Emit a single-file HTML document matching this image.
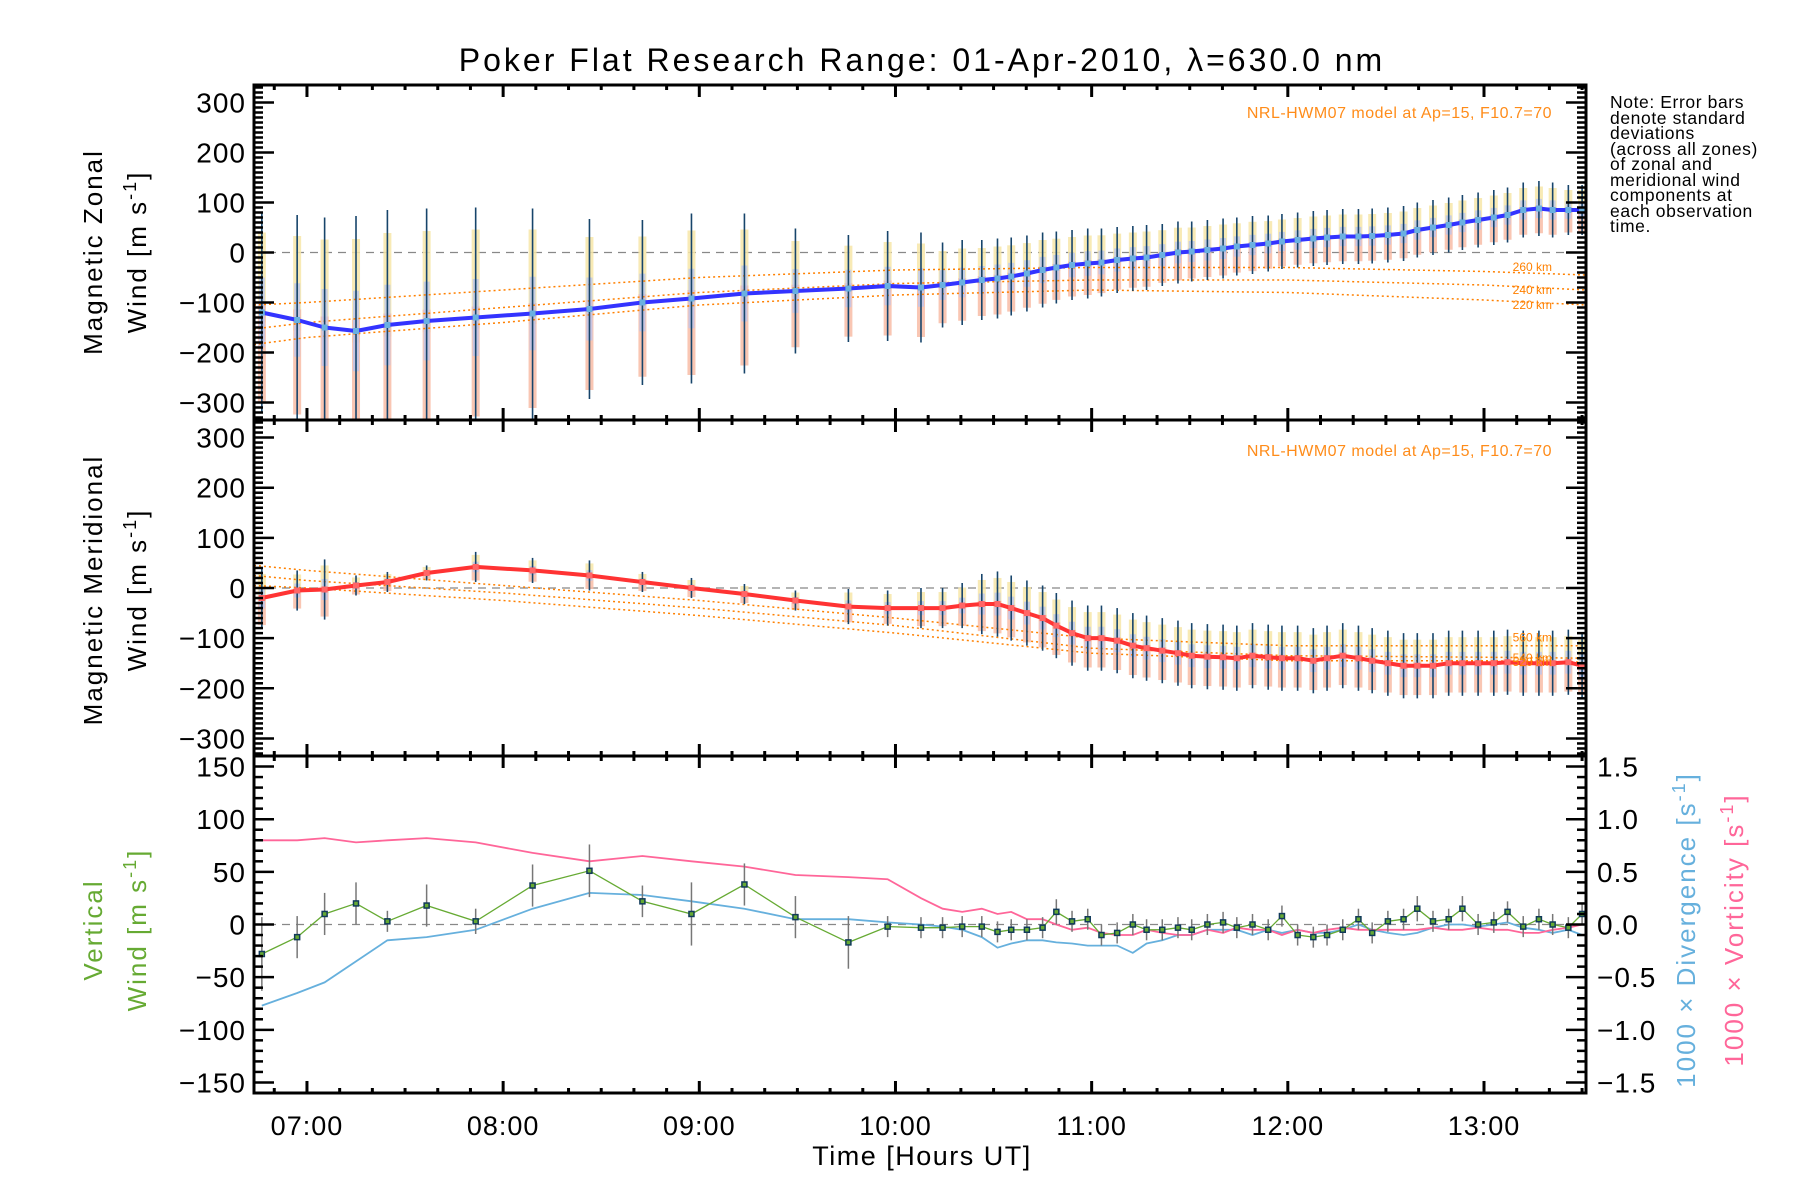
<!DOCTYPE html>
<html><head><meta charset="utf-8"><style>
html,body{margin:0;padding:0;background:#fff;}
svg{display:block;font-family:"Liberation Sans",sans-serif;}
</style></head><body>
<svg id="chart" width="1800" height="1200" viewBox="0 0 1800 1200" xmlns="http://www.w3.org/2000/svg">
<rect width="1800" height="1200" fill="#fff"/>
<text x="922" y="71" font-size="32" letter-spacing="3" text-anchor="middle">Poker Flat Research Range: 01-Apr-2010, λ=630.0 nm</text>
<g font-size="17.5" letter-spacing="0.6" fill="#000">
<text x="1610" y="108">Note: Error bars</text>
<text x="1610" y="124">denote standard</text>
<text x="1610" y="139">deviations</text>
<text x="1610" y="155">(across all zones)</text>
<text x="1610" y="170">of zonal and</text>
<text x="1610" y="186">meridional wind</text>
<text x="1610" y="201">components at</text>
<text x="1610" y="217">each observation</text>
<text x="1610" y="232">time.</text>
</g>
<g font-size="26" letter-spacing="2" text-anchor="middle">
<text transform="translate(102,252) rotate(-90)">Magnetic Zonal</text>
<text transform="translate(146,252) rotate(-90)">Wind [m s<tspan dy="-10" font-size="18">-1</tspan><tspan dy="10">]</tspan></text>
</g>
<g font-size="26" letter-spacing="2" text-anchor="middle">
<text transform="translate(102,590) rotate(-90)">Magnetic Meridional</text>
<text transform="translate(146,590) rotate(-90)">Wind [m s<tspan dy="-10" font-size="18">-1</tspan><tspan dy="10">]</tspan></text>
</g>
<g font-size="26" letter-spacing="2" text-anchor="middle" fill="#66aa33">
<text transform="translate(102,930) rotate(-90)">Vertical</text>
<text transform="translate(146,930) rotate(-90)">Wind [m s<tspan dy="-10" font-size="18">-1</tspan><tspan dy="10">]</tspan></text>
</g>
<text transform="translate(1695,930) rotate(-90)" font-size="26" letter-spacing="2" text-anchor="middle" fill="#66b0dd">1000 × Divergence [s<tspan dy="-10" font-size="18">-1</tspan><tspan dy="10">]</tspan></text>
<text transform="translate(1743,930) rotate(-90)" font-size="26" letter-spacing="2" text-anchor="middle" fill="#ff6699">1000 × Vorticity [s<tspan dy="-10" font-size="18">-1</tspan><tspan dy="10">]</tspan></text>
<text x="922" y="1165" font-size="27" letter-spacing="1.5" text-anchor="middle">Time [Hours UT]</text>
<text x="1552" y="118" font-size="16" letter-spacing="0.5" text-anchor="end" fill="#ff8c1a">NRL-HWM07 model at Ap=15, F10.7=70</text>
<text x="1552" y="456" font-size="16" letter-spacing="0.5" text-anchor="end" fill="#ff8c1a">NRL-HWM07 model at Ap=15, F10.7=70</text>
<g id="plots"></g>
</svg>
<script>
// ---- data ----
const times = [6.77,6.95,7.09,7.25,7.41,7.61,7.86,8.15,8.44,8.71,8.96,9.23,9.49,9.76,9.96,10.13,10.24,10.34,
10.44,10.52,10.59,10.67,10.75,10.82,10.90,10.98,11.05,11.13,11.21,11.28,11.36,11.44,11.51,11.59,11.67,11.74,11.82,11.90,11.97,12.05,12.13,12.20,12.28,12.36,12.43,12.51,12.59,12.66,12.74,12.82,12.89,12.97,13.05,13.12,13.20,13.28,13.35,13.43,13.50];
const zonal = [-120,-135,-150,-157,-145,-137,-130,-122,-113,-100,-92,-82,-77,-72,-67,-70,-65,-60,
-55,-52,-48,-42,-35,-30,-25,-22,-20,-15,-12,-10,-5,0,2,5,8,12,15,18,22,25,28,30,32,32,33,35,38,45,50,55,60,65,70,75,85,88,85,85,85];
const zonalSd = [200,210,220,230,230,225,220,210,180,165,170,160,125,107,110,110,85,85,
80,80,78,76,75,72,70,70,68,66,65,65,62,62,60,60,60,58,58,56,55,55,55,55,55,55,55,55,55,55,55,55,55,55,55,55,55,55,55,50,50];
const merid = [-20,-5,-3,5,12,30,42,35,25,12,0,-12,-25,-37,-40,-40,-40,-35,
-32,-32,-40,-50,-60,-75,-90,-100,-100,-105,-115,-120,-125,-130,-135,-137,-138,-140,-135,-138,-140,-140,-145,-140,-135,-140,-145,-150,-155,-155,-155,-150,-150,-150,-150,-148,-150,-150,-150,-148,-155];
const meridSd = [60,40,60,20,20,15,30,25,30,20,20,20,20,35,35,40,40,45,
60,65,65,65,65,65,65,65,65,65,65,65,65,65,65,65,65,65,65,65,65,65,65,65,65,65,65,65,65,65,65,65,65,65,65,65,65,65,65,65,65];
const vert = [-28,-12,10,20,3,18,3,37,51,22,10,38,7,-17,-2,-3,-3,-2,
-2,-7,-5,-5,-3,12,3,5,-10,-8,0,-5,-5,-3,-5,0,2,-3,0,-5,8,-10,-12,-10,-5,5,-8,3,5,15,3,5,15,0,2,12,-2,5,0,-3,10];
const vertSd = [35,20,20,20,10,20,12,20,25,15,30,20,20,25,10,10,10,10,
10,10,10,10,10,12,10,10,10,10,10,10,10,10,10,10,10,10,10,10,10,10,10,10,10,10,10,10,10,12,10,10,12,10,10,10,10,10,10,10,10];
const divergence = [-77,-65,-55,-35,-15,-12,-5,15,30,28,22,15,5,5,2,0,-2,-5,
-12,-22,-18,-15,-15,-17,-18,-20,-20,-20,-27,-18,-15,-10,-10,-5,-5,-5,-10,-5,-8,-5,-8,-8,-5,0,-5,-8,-10,-8,-3,0,0,-2,0,2,-3,-5,-8,-5,-10];
const vorticity = [80,80,82,78,80,82,78,68,60,65,60,55,47,45,43,25,15,12,
15,10,12,5,5,0,-5,-3,-8,-10,-10,-5,-8,-10,-10,-5,-8,-3,-5,-5,-10,-5,-8,-5,-3,-5,-5,-5,-5,-5,-3,-5,-5,-3,-5,-5,-8,-8,-5,-3,0];
const modelTimes = [6.73,7,8,9,10,11,12,13,13.52];
const zonal260 = [-105,-100,-75,-50,-35,-30,-30,-38,-45];
const zonal240 = [-153,-140,-110,-80,-62,-55,-55,-65,-75];
const zonal220 = [-184,-170,-140,-105,-85,-75,-80,-95,-105];
const merid560 = [45,35,5,-25,-60,-100,-115,-115,-115];
const merid540 = [25,15,-10,-40,-75,-120,-135,-138,-140];
const merid520 = [5,0,-25,-55,-90,-130,-145,-145,-148];
const hourLabels = ["07:00","08:00","09:00","10:00","11:00","12:00","13:00"];
const windTicks = [-300,-200,-100,0,100,200,300];
const vertTicks = [-150,-100,-50,0,50,100,150];
const rightTicks = ["-1.5","-1.0","-0.5","0.0","0.5","1.0","1.5"];

// ---- layout ----
const X0=254, X1=1586, T0=6.73, T1=13.52;
const panels=[{top:85,bot:420,lim:335},{top:420,bot:756,lim:335},{top:756,bot:1093,lim:160}];
const NS="http://www.w3.org/2000/svg";
const root=document.getElementById('plots');
function x(t){return X0+(t-T0)/(T1-T0)*(X1-X0);}
function yf(p){const P=panels[p];return v=>P.top+(P.lim-v)/(2*P.lim)*(P.bot-P.top);}
function mk(tag,attrs,parent){const e=document.createElementNS(NS,tag);for(const k in attrs)e.setAttribute(k,attrs[k]);(parent||root).appendChild(e);return e;}
function pathD(ts,vs,y){return ts.map((t,i)=>(i?'L':'M')+x(t).toFixed(1)+','+y(vs[i]).toFixed(1)).join('');}

const defs=mk('defs',{});
panels.forEach((P,i)=>{const c=mk('clipPath',{id:'clip'+i},defs);mk('rect',{x:X0,y:P.top,width:X1-X0,height:P.bot-P.top},c);});

function panelWind(p,vals,sds,lineColor,models,labels,namePrefix){
  const y=yf(p);
  const g=mk('g',{'clip-path':'url(#clip'+p+')'});
  
  
  const zero=mk('line',{x1:X0,x2:X1,y1:y(0),y2:y(0),stroke:'#888','stroke-dasharray':'8,6','stroke-width':1.2},g);
  
  
  times.forEach((t,i)=>{
    const s1=mk('rect',{x:x(t)-4,y:y(vals[i]+sds[i]*0.8),width:8,height:Math.abs(y(vals[i]-sds[i]*0.1)-y(vals[i]+sds[i]*0.8)),fill:'#f7e6a8',opacity:0.85},g);
    
    
    const s2=mk('rect',{x:x(t)-4,y:y(vals[i]+sds[i]*0.1),width:8,height:Math.abs(y(vals[i]-sds[i]*0.9)-y(vals[i]+sds[i]*0.1)),fill:'#f8bca6',opacity:0.85},g);
    
    
    const s3=mk('rect',{x:x(t)-3,y:y(vals[i]+sds[i]*0.35),width:6,height:Math.abs(y(vals[i]-sds[i]*0.35)-y(vals[i]+sds[i]*0.35)),fill:'#b8c4f0',opacity:0.75},g);
    
    
  });
  models.forEach((m,k)=>{
    const l=mk('path',{d:pathD(modelTimes,m,y),fill:'none',stroke:'#ff8000','stroke-width':1.5,'stroke-dasharray':'2,3'},g);
    
    
    const lb=mk('text',{x:1552,y:y(m[m.length-1])+(k===0?-4:4),'font-size':12,'text-anchor':'end',fill:'#ff8000'},root);
    lb.textContent=labels[k];
    
    
  });
  times.forEach((t,i)=>{
    const e=mk('line',{x1:x(t),x2:x(t),y1:y(vals[i]-sds[i]),y2:y(vals[i]+sds[i]),stroke:'#17456b','stroke-width':1.6},g);
    
    
  });
  const ln=mk('path',{d:pathD(times,vals,y),fill:'none',stroke:lineColor,'stroke-width':4,'stroke-linejoin':'round'},g);
  
  
  times.forEach((t,i)=>{
    const d=mk('rect',{x:x(t)-3,y:y(vals[i])-3,width:6,height:6,fill:p===0?'#6ab0e0':'#ff6666'},g);
    
    
  });
}
panelWind(0,zonal,zonalSd,'#3333ff',[zonal260,zonal240,zonal220],['260 km','240 km','220 km'],'zonal');
panelWind(1,merid,meridSd,'#ff3333',[merid560,merid540,merid520],['560 km','540 km','520 km'],'meridional');

(function(){
  const y=yf(2);
  const g=mk('g',{'clip-path':'url(#clip2)'});
  
  
  const zero=mk('line',{x1:X0,x2:X1,y1:y(0),y2:y(0),stroke:'#888','stroke-dasharray':'8,6','stroke-width':1.2},g);
  
  
  const dv=mk('path',{d:pathD(times,divergence,y),fill:'none',stroke:'#66b0dd','stroke-width':1.8},g);
  
  
  const vo=mk('path',{d:pathD(times,vorticity,y),fill:'none',stroke:'#ff6699','stroke-width':1.8},g);
  
  
  times.forEach((t,i)=>{
    const e=mk('line',{x1:x(t),x2:x(t),y1:y(vert[i]-vertSd[i]),y2:y(vert[i]+vertSd[i]),stroke:'#777','stroke-width':1.5},g);
    
    
  });
  const vl=mk('path',{d:pathD(times,vert,y),fill:'none',stroke:'#66aa33','stroke-width':1.3},g);
  
  
  times.forEach((t,i)=>{
    const d=mk('rect',{x:x(t)-2.5,y:y(vert[i])-2.5,width:5,height:5,fill:'#66aa33',stroke:'#103a5a','stroke-width':1.5},g);
    
    
  });
})();

panels.forEach((P,p)=>{
  const y=yf(p);
  const ax=mk('g',{stroke:'#000'});
  
  
  const minorStep=10, lim=P.lim;
  for(let v=-Math.floor(lim/minorStep)*minorStep; v<=lim; v+=minorStep){
    const major = p===2 ? (v%50===0) : (v%100===0);
    const len = major?20:9;
    mk('line',{x1:X0,x2:X0+len,y1:y(v),y2:y(v),'stroke-width':2.5},ax);
    if(p<2) mk('line',{x1:X1,x2:X1-len,y1:y(v),y2:y(v),'stroke-width':2.5},ax);
  }
  if(p===2){
    for(let k=-16;k<=16;k++){
      const v=k*10; const len=(k%5===0)?20:9;
      mk('line',{x1:X1,x2:X1-len,y1:y(v),y2:y(v),'stroke-width':2.5},ax);
    }
  }
  for(let m=Math.ceil(T0*6);m<=T1*6;m++){
    const t=m/6, major=(m%6===0), len=major?12:5;
    mk('line',{x1:x(t),x2:x(t),y1:P.bot,y2:P.bot-len,'stroke-width':3},ax);
    mk('line',{x1:x(t),x2:x(t),y1:P.top,y2:P.top+len,'stroke-width':3},ax);
  }
  mk('rect',{x:X0,y:P.top,width:X1-X0,height:P.bot-P.top,fill:'none','stroke-width':3},ax);
  const ticks = p===2?vertTicks:windTicks;
  ticks.forEach(v=>{
    const tl=mk('text',{x:X0-8,y:y(v)+10,'font-size':28,'letter-spacing':1,'text-anchor':'end',stroke:'none'},root);
    tl.textContent=(v<0?'\u2212'+(-v):String(v));
    
    
  });
});
rightTicks.forEach(s=>{
  const y=yf(2); const v=parseFloat(s)*100;
  const tl=mk('text',{x:1597,y:y(v)+10,'font-size':28,'letter-spacing':1},root);
  tl.textContent=s.replace('-','\u2212');
  
  
});
hourLabels.forEach((s,i)=>{
  const tl=mk('text',{x:x(7+i),y:1135,'font-size':27,'letter-spacing':1,'text-anchor':'middle'},root);
  tl.textContent=s;
  
  
});
</script>
</body></html>
